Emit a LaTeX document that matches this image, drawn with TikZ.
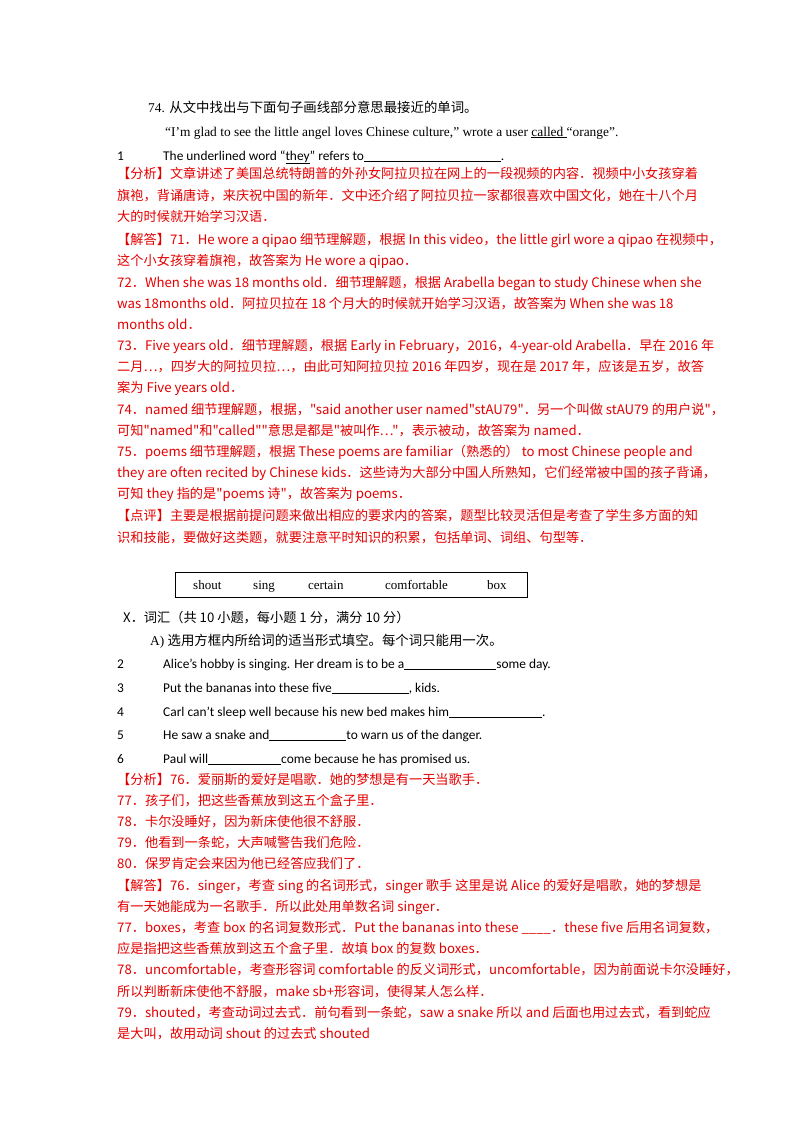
\documentclass[tikz,border=0pt]{standalone}
\usepackage{fontspec}
\setmainfont{Liberation Serif}
\newfontfamily\cjk{Noto Sans CJK SC}
\newfontfamily\calfont{Carlito}
\begin{document}
\begin{tikzpicture}[x=1pt,y=-1pt,
  tx/.style={anchor=base west,inner sep=0pt,font=\cjk\fontsize{13.2}{14}\selectfont},
  rd/.style={tx,text=ansred},
  qs/.style={anchor=base west,inner sep=0pt,font=\calfont\fontsize{13.4}{14}\selectfont}]
\definecolor{ansred}{RGB}{228,0,0}
\useasboundingbox (0,0) rectangle (800,1132);
\fill[white] (0,0) rectangle (800,1132);
\newcommand\blank[1]{\rule[-1.8pt]{#1pt}{0.8pt}}
\node[anchor=base west,inner sep=0pt,font=\fontsize{13.4}{14}\selectfont] (t1) at (148,112) {74. {\cjk 从文中找出与下面句子画线部分意思最接近的单词。}};
\node[anchor=base west,inner sep=0pt,font=\fontsize{13.4}{14}\selectfont] (t2) at (165,136) {“I’m glad to see the little angel loves Chinese culture,” wrote a user \underline{called }“orange”.};
\node[qs] (n1) at (117,160) {1};
\node[qs] (q1) at (163,160) {The underlined word “\underline{they}” refers to\blank{137}.};
\node[rd] (r1) at (117,178) {【分析】文章讲述了美国总统特朗普的外孙女阿拉贝拉在网上的一段视频的内容．视频中小女孩穿着};
\node[rd] (r2) at (117,200) {旗袍，背诵唐诗，来庆祝中国的新年．文中还介绍了阿拉贝拉一家都很喜欢中国文化，她在十八个月};
\node[rd] (r3) at (117,221) {大的时候就开始学习汉语．};
\node[rd] (r4) at (117,244) {【解答】71．He wore a qipao 细节理解题，根据 In this video，the little girl wore a qipao 在视频中，};
\node[rd] (r5) at (117,265) {这个小女孩穿着旗袍，故答案为 He wore a qipao．};
\node[rd] (r6) at (117,287) {72．When she was 18 months old．细节理解题，根据 Arabella began to study Chinese when she};
\node[rd] (r7) at (117,308) {was 18months old．阿拉贝拉在 18 个月大的时候就开始学习汉语，故答案为 When she was 18};
\node[rd] (r8) at (117,329) {months old．};
\node[rd] (r9) at (117,350) {73．Five years old．细节理解题，根据 Early in February，2016，4-year-old Arabella．早在 2016 年};
\node[rd] (r10) at (117,371) {二月…，四岁大的阿拉贝拉…，由此可知阿拉贝拉 2016 年四岁，现在是 2017 年，应该是五岁，故答};
\node[rd] (r11) at (117,392) {案为 Five years old．};
\node[rd] (r12) at (117,414) {74．named 细节理解题，根据，"said another user named"stAU79"．另一个叫做 stAU79 的用户说"，};
\node[rd] (r13) at (117,435) {可知"named"和"called""意思是都是"被叫作…"，表示被动，故答案为 named．};
\node[rd] (r14) at (117,456) {75．poems 细节理解题，根据 These poems are familiar（熟悉的） to most Chinese people and};
\node[rd] (r15) at (117,477) {they are often recited by Chinese kids．这些诗为大部分中国人所熟知，它们经常被中国的孩子背诵，};
\node[rd] (r16) at (117,498) {可知 they 指的是"poems 诗"，故答案为 poems．};
\node[rd] (r17) at (117,520) {【点评】主要是根据前提问题来做出相应的要求内的答案，题型比较灵活但是考查了学生多方面的知};
\node[rd] (r18) at (117,542) {识和技能，要做好这类题，就要注意平时知识的积累，包括单词、词组、句型等．};
\node[draw,line width=0.8pt,minimum width=352pt,minimum height=25pt,inner sep=0pt] (box) at (351,585) {};
\foreach \w/\xx [count=\i] in {shout/193,sing/253,certain/308,comfortable/385,box/487}
  \node[anchor=base west,inner sep=0pt,font=\fontsize{13}{14}\selectfont] (w\i) at (\xx,589) {\w};
\node[tx] (h1) at (123,622) {X．词汇（共 10 小题，每小题 1 分，满分 10 分）};
\node[anchor=base west,inner sep=0pt,font=\fontsize{13.4}{14}\selectfont] (h2) at (150,645) {A) {\cjk 选用方框内所给词的适当形式填空。每个词只能用一次。}};
\node[qs] (n2) at (117,668) {2};
\node[qs] (q2) at (163,668) {Alice’s hobby is singing. Her dream is to be a\blank{92}some day.};
\node[qs] (n3) at (117,692) {3};
\node[qs] (q3) at (163,692) {Put the bananas into these five\blank{77}, kids.};
\node[qs] (n4) at (117,716) {4};
\node[qs] (q4) at (163,716) {Carl can’t sleep well because his new bed makes him\blank{93}.};
\node[qs] (n5) at (117,739) {5};
\node[qs] (q5) at (163,739) {He saw a snake and\blank{77}to warn us of the danger.};
\node[qs] (n6) at (117,763) {6};
\node[qs] (q6) at (163,763) {Paul will\blank{73}come because he has promised us.};
\node[rd] (s1) at (117,784) {【分析】76．爱丽斯的爱好是唱歌．她的梦想是有一天当歌手．};
\node[rd] (s2) at (117,805) {77．孩子们，把这些香蕉放到这五个盒子里．};
\node[rd] (s3) at (117,826) {78．卡尔没睡好，因为新床使他很不舒服．};
\node[rd] (s4) at (117,847) {79．他看到一条蛇，大声喊警告我们危险．};
\node[rd] (s5) at (117,868) {80．保罗肯定会来因为他已经答应我们了．};
\node[rd] (s6) at (117,890) {【解答】76．singer，考查 sing 的名词形式，singer 歌手 这里是说 Alice 的爱好是唱歌，她的梦想是};
\node[rd] (s7) at (117,911) {有一天她能成为一名歌手．所以此处用单数名词 singer．};
\node[rd] (s8) at (117,932) {77．boxes，考查 box 的名词复数形式．Put the bananas into these \_\_\_\_．these five 后用名词复数，};
\node[rd] (s9) at (117,953) {应是指把这些香蕉放到这五个盒子里．故填 box 的复数 boxes．};
\node[rd] (s10) at (117,974) {78．uncomfortable，考查形容词 comfortable 的反义词形式，uncomfortable，因为前面说卡尔没睡好，};
\node[rd] (s11) at (117,996) {所以判断新床使他不舒服，make sb+形容词，使得某人怎么样．};
\node[rd] (s12) at (117,1017) {79．shouted，考查动词过去式．前句看到一条蛇，saw a snake 所以 and 后面也用过去式，看到蛇应};
\node[rd] (s13) at (117,1038) {是大叫，故用动词 shout 的过去式 shouted};
\end{tikzpicture}
\end{document}
